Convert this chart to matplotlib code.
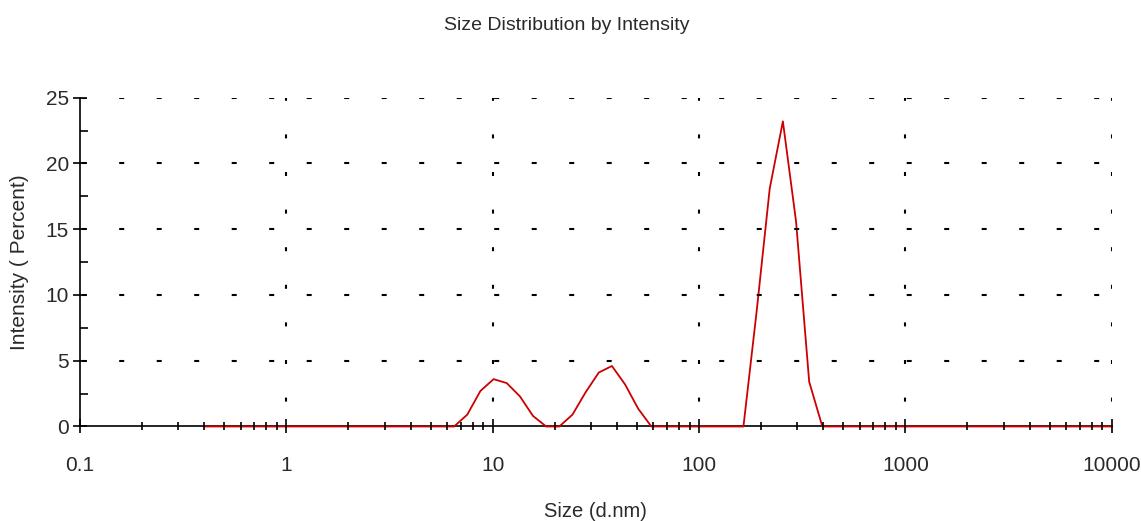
import matplotlib
matplotlib.use("Agg")
import matplotlib.pyplot as plt
from matplotlib.ticker import MultipleLocator, LogLocator, NullFormatter

plt.rcParams['font.family'] = ['Liberation Sans', 'DejaVu Sans']
plt.rcParams['lines.scale_dashes'] = False

# size classes (d.nm) and intensity distribution (%)
size_nm = [0.4, 0.4632, 0.5365, 0.6213, 0.7195, 0.8332, 0.9649, 1.117, 1.294, 1.499,
           1.736, 2.01, 2.328, 2.696, 3.122, 3.615, 4.187, 4.849, 5.615, 6.503,
           7.531, 8.721, 10.1, 11.7, 13.54, 15.69, 18.17, 21.04, 24.36, 28.21,
           32.67, 37.84, 43.82, 50.75, 58.77, 68.06, 78.82, 91.28, 105.7, 122.4,
           141.8, 164.2, 190.1, 220.2, 255.0, 295.3, 342.0, 396.1, 458.7, 531.2,
           615.1, 712.4, 825.0, 955.4, 1106, 1281, 1484, 1718, 1990, 2305,
           2669, 3091, 3580, 4145, 4801, 5560, 6439, 7456, 8635, 10000]
intensity = [0, 0, 0, 0, 0, 0, 0, 0, 0, 0,
             0, 0, 0, 0, 0, 0, 0, 0, 0, 0,
             0.9, 2.7, 3.6, 3.3, 2.3, 0.8, 0, 0, 0.9, 2.6,
             4.1, 4.6, 3.2, 1.35, 0, 0, 0, 0, 0, 0,
             0, 0, 8.7, 18.1, 23.2, 15.6, 3.4, 0, 0, 0,
             0, 0, 0, 0, 0, 0, 0, 0, 0, 0,
             0, 0, 0, 0, 0, 0, 0, 0, 0, 0]

xticks = [0.1, 1, 10, 100, 1000, 10000]
xticklabels = ['0.1', '1', '10', '100', '1000', '10000']
yticks = [0, 5, 10, 15, 20, 25]

fig = plt.figure(figsize=(11.41, 5.21), dpi=100)
ax = fig.add_axes([0.0701, 0.1814, 0.9042, 0.6311])

ax.plot(size_nm, intensity, color='#cc0000', lw=1.3, zorder=2.7, clip_on=False)

ax.set_xscale('log')
ax.set_xlim(0.1, 10000)
ax.set_ylim(0, 25)
ax.set_xticks(xticks)
ax.set_xticklabels(xticklabels)
ax.xaxis.set_minor_locator(LogLocator(base=10, subs=range(2, 10), numticks=20))
ax.xaxis.set_minor_formatter(NullFormatter())
ax.set_yticks(yticks)
ax.yaxis.set_minor_locator(MultipleLocator(2.5))

for s in ['top', 'right']:
    ax.spines[s].set_visible(False)
for s in ['left', 'bottom']:
    ax.spines[s].set_linewidth(1.2)
    ax.spines[s].set_color('black')

ax.tick_params(axis='x', which='major', direction='inout', length=10, width=1.2,
               pad=16, labelsize=15, labelcolor='#2a2a2a')
ax.tick_params(axis='x', which='minor', direction='inout', length=6, width=1.2)
ax.tick_params(axis='y', which='major', direction='inout', length=10, width=1.2,
               pad=3, labelsize=15, labelcolor='#2a2a2a')
ax.tick_params(axis='y', which='minor', direction='in', length=6, width=1.2)

# sparse dashed grid, dash sizes given in pixels -> points
px = 0.72
ax.xaxis.grid(True, which='major', color='black', lw=1.5,
              linestyle=(13.2 * px, (4 * px, 33.6 * px)))
ax.yaxis.grid(True, which='major', color='black', lw=1.5,
              linestyle=(35.8 * px, (5 * px, 32.5 * px)))
ax.xaxis.get_major_ticks()[0].gridline.set_visible(False)
ax.yaxis.get_major_ticks()[0].gridline.set_visible(False)
ax.xaxis.set_zorder(3)
ax.yaxis.set_zorder(3)

ax.set_xlabel('Size (d.nm)', fontsize=14.5, color='#2a2a2a', labelpad=20)
ax.set_ylabel('Intensity ( Percent)', fontsize=15, color='#2a2a2a', labelpad=12)
fig.text(567 / 1141, 1 - 25 / 521, 'Size Distribution by Intensity',
         ha='center', va='center', fontsize=14, color='#2a2a2a')

fig.savefig('out.png', dpi=100, facecolor='white')
